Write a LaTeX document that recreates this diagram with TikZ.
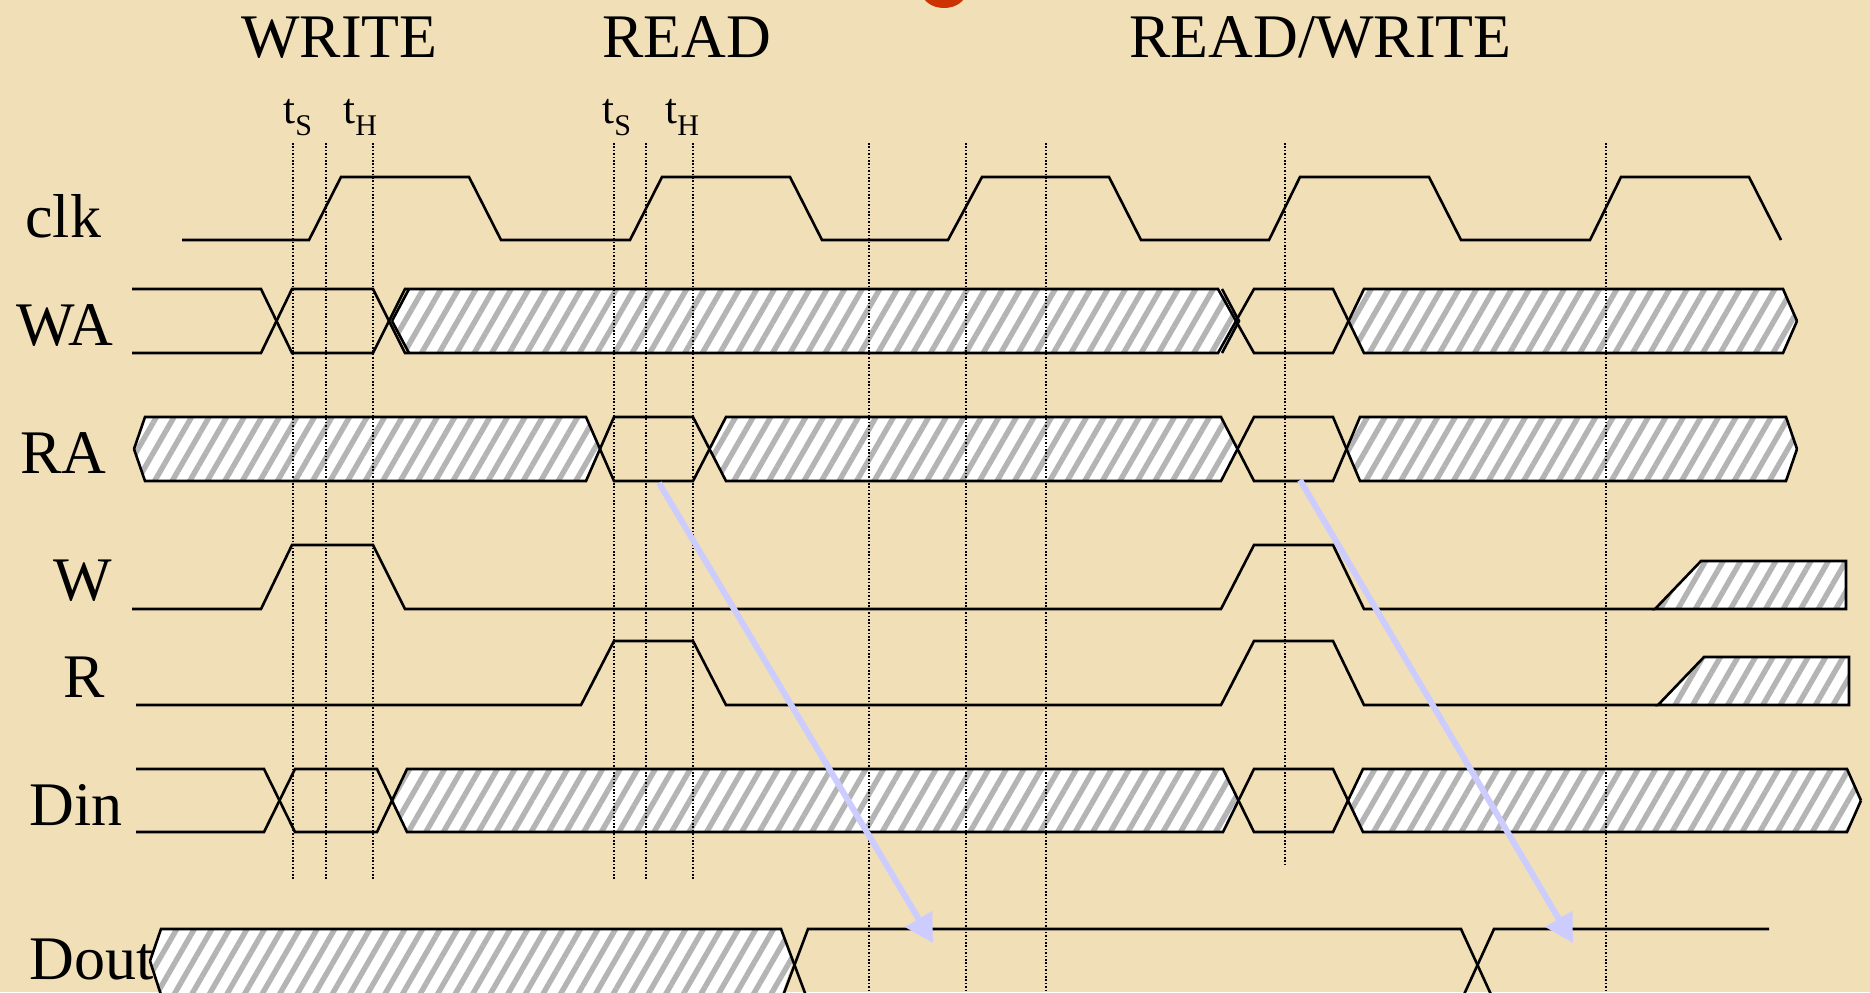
\documentclass[tikz,border=0pt]{standalone}
\usepackage{fontspec}
\setmainfont{Liberation Serif}
\usetikzlibrary{patterns.meta,arrows.meta}
\definecolor{parch}{RGB}{240,223,183}
\definecolor{hatchgray}{RGB}{180,180,180}
\definecolor{arrowblue}{RGB}{204,204,255}
\definecolor{titlered}{RGB}{204,51,0}
\newcommand\tsub[1]{t\raisebox{-6pt}{\fontsize{15}{16}\selectfont #1}}
\begin{document}
\begin{tikzpicture}[x=0.5pt,y=-0.5pt,
  sig/.style={line width=1.3pt, line join=miter},
  hatch/.style={preaction={fill=white}, pattern={Lines[angle=60,distance=7.6pt,line width=2.7pt]}, pattern color=hatchgray},
  guide/.style={line width=0.6pt, dash pattern=on 0.8pt off 0.9pt},
  lbl/.style={anchor=base west, inner sep=0pt, font=\fontsize{31}{34}\selectfont},
  tlbl/.style={anchor=base west, inner sep=0pt, font=\fontsize{21.5}{24}\selectfont},
  flow/.style={draw=arrowblue, line width=3pt, -{Triangle[length=14pt,width=15pt]}}]
\useasboundingbox (0,0) rectangle (1870,992);
\clip (0,0) rectangle (1870,992);
\fill[parch] (0,0) rectangle (1870,992);
\fill[titlered] (944,-8) ellipse [x radius=22, y radius=16];

% headings
\node[lbl] (hw) at (241,57) {WRITE};
\node[lbl] (hr) at (602,57) {READ};
\node[lbl] (hrw) at (1129,57) {READ/WRITE};
\node[tlbl] (ts1) at (283,123) {\tsub{S}};
\node[tlbl] (th1) at (343,123) {\tsub{H}};
\node[tlbl] (ts2) at (602,123) {\tsub{S}};
\node[tlbl] (th2) at (665,123) {\tsub{H}};

% signal labels
\node[lbl] (lclk) at (25,237) {clk};
\node[lbl] (lwa) at (16,345) {WA};
\node[lbl] (lra) at (20,473) {RA};
\node[lbl] (lw) at (53,600) {W};
\node[lbl] (lr) at (63,697) {R};
\node[lbl] (ldin) at (29,825) {Din};
\node[lbl] (ldout) at (29,979) {Dout};

% hatched regions
\path[hatch] (392,321)--(409,289)--(1222,289)--(1239,321)--(1222,353)--(409,353)--cycle;
\path[hatch] (1348.5,321)--(1364,289)--(1783,289)--(1797,321)--(1783,353)--(1364,353)--cycle;
\path[hatch] (134,449)--(145,417)--(586,417)--(600,449)--(586,481)--(145,481)--cycle;
\path[hatch] (709.5,449)--(726,417)--(1221,417)--(1237.5,449)--(1221,481)--(726,481)--cycle;
\path[hatch] (1346.5,449)--(1360,417)--(1786,417)--(1797,449)--(1786,481)--(1360,481)--cycle;
\path[hatch] (392,800.5)--(407,769)--(1223,769)--(1238.5,800.5)--(1223,832)--(407,832)--cycle;
\path[hatch] (1348,800.5)--(1363,769)--(1847,769)--(1861,800.5)--(1847,832)--(1363,832)--cycle;
\path[hatch] (150,961)--(161,929)--(781,929)--(793,961)--(781,996)--(161,996)--cycle;
\path[hatch,draw,sig] (1655,609)--(1701,561)--(1846,561)--(1846,609)--cycle;
\path[hatch,draw,sig] (1658,705)--(1704,657)--(1849,657)--(1849,705)--cycle;

% guides
\foreach \x in {293,326,373,614,646,693} \draw[guide] (\x,143) -- (\x,880);
\foreach \x in {869,966,1046,1606} \draw[guide] (\x,143) -- (\x,992);
\draw[guide] (1285,143) -- (1285,865);

% clk
\draw[sig] (182,240)--(309,240)--(341,177)--(469,177)--(501,240)--(630,240)--(662,177)--(790,177)--(822,240)--(948,240)--(982,177)--(1109,177)--(1141,240)--(1269,240)--(1300,177)--(1429,177)--(1461,240)--(1590,240)--(1621,177)--(1749,177)--(1781,240);

% WA
\draw[sig] (132,289)--(261,289)--(292,353)--(373,353)--(405,289)--(1218,289)--(1254,353)--(1333,353)--(1364,289)--(1783,289)--(1797,321);
\draw[sig] (132,353)--(261,353)--(292,289)--(373,289)--(405,353)--(1218,353)--(1254,289)--(1333,289)--(1364,353)--(1783,353)--(1797,321);
\draw[sig] (392,321)--(409,289) (392,321)--(409,353) (1222,289)--(1239,321)--(1222,353);

% RA
\draw[sig] (134,449)--(145,417)--(586,417)--(614,481)--(693,481)--(726,417)--(1221,417)--(1254,481)--(1333,481)--(1360,417)--(1786,417)--(1797,449);
\draw[sig] (134,449)--(145,481)--(586,481)--(614,417)--(693,417)--(726,481)--(1221,481)--(1254,417)--(1333,417)--(1360,481)--(1786,481)--(1797,449);

% W, R
\draw[sig] (132,609)--(261,609)--(292,545)--(373,545)--(405,609)--(1221,609)--(1254,545)--(1333,545)--(1364,609)--(1655,609);
\draw[sig] (136,705)--(581,705)--(614,641)--(693,641)--(726,705)--(1221,705)--(1254,641)--(1333,641)--(1364,705)--(1658,705);

% Din
\draw[sig] (136,769)--(264,769)--(295,832)--(377,832)--(407,769)--(1223,769)--(1254,832)--(1333,832)--(1363,769)--(1847,769)--(1861,800.5);
\draw[sig] (136,832)--(264,832)--(295,769)--(377,769)--(407,832)--(1223,832)--(1254,769)--(1333,769)--(1363,832)--(1847,832)--(1861,800.5);

% Dout
\draw[sig] (150,961)--(161,929)--(781,929)--(808,1001)--(1461,1001);
\draw[sig] (150,961)--(163,1001);
\draw[sig] (781,1001)--(808,929)--(1461,929)--(1494,1001);
\draw[sig] (1461,1001)--(1494,929)--(1769,929);

% read flow arrows
\coordinate (a1s) at (659,483);
\coordinate (a1e) at (933,943);
\coordinate (a2s) at (1300,480);
\coordinate (a2e) at (1573,943);
\draw[flow] (a1s) -- (a1e);
\draw[flow] (a2s) -- (a2e);
\end{tikzpicture}
\end{document}
